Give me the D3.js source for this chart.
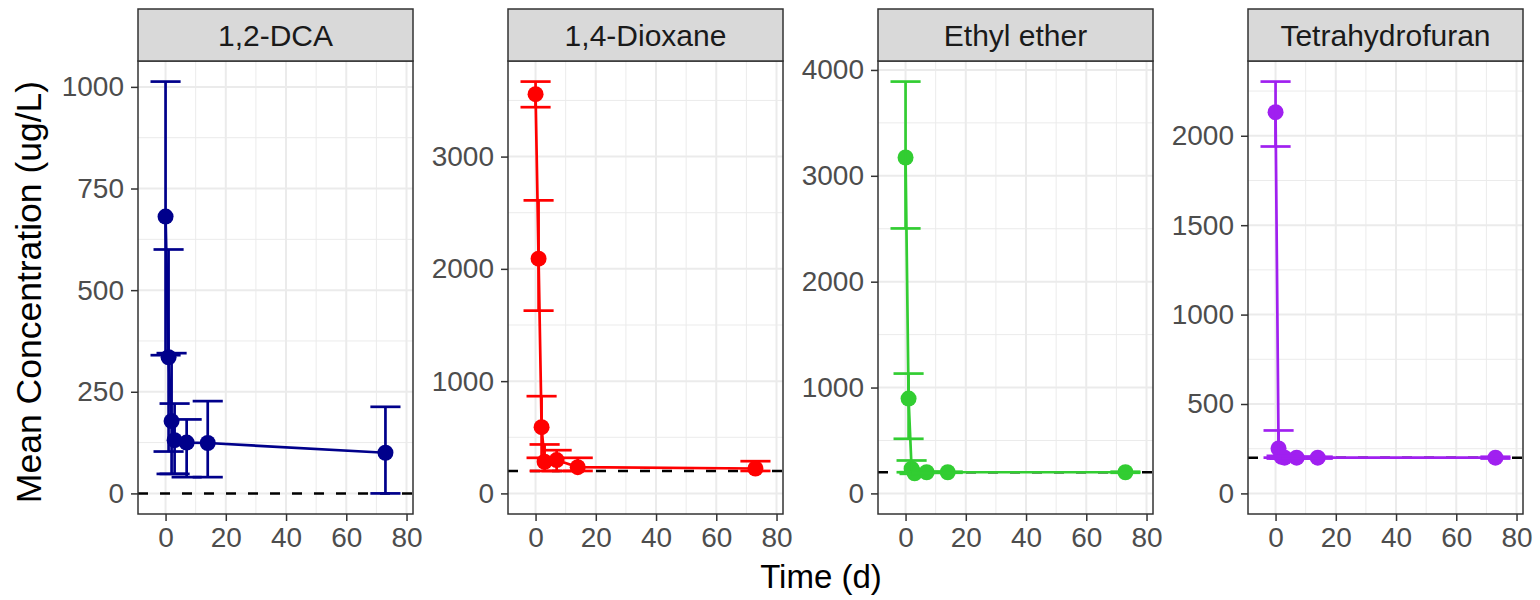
<!DOCTYPE html>
<html>
<head>
<meta charset="utf-8">
<script src="https://cdn.jsdelivr.net/npm/d3@7"></script>
<style>
  body { margin: 0; background: white; }
  text { font-family: "Liberation Sans", Arial, sans-serif; }
</style>
</head>
<body>
<script>
// values
const analytes = ["1,2-DCA", "1,4-Dioxane", "Ethyl ether", "Tetrahydrofuran"];
const colors = ["#00008B", "#FF0000", "#32CD32", "#A020F0"];
const times = [0, 1, 2, 3, 7, 14, 73];

const dcaMean = [681, 335, 178, 131, 125, 124, 100];
const dcaLow = [340, 103, 48, 48, 40, 40, 0];
const dcaHigh = [1013, 600, 345, 221, 182, 227, 213];

const dioxMean = [3556, 2091, 590, 282, 297, 234, 222];
const dioxLow = [3440, 1628, 317, 200, 200, 200, 200];
const dioxHigh = [3668, 2610, 866, 436, 385, 317, 287];

const etherMean = [3173, 896, 233, 190, 200, 200, 200];
const etherLow = [2503, 516, 200, 185, 195, 195, 195];
const etherHigh = [3890, 1132, 311, 200, 205, 205, 205];

const thfMean = [2132, 251, 205, 200, 200, 200, 200];
const thfLow = [1940, 200, 195, 195, 195, 195, 195];
const thfHigh = [2303, 352, 210, 205, 205, 205, 205];

const limitLines = [0, 200, 200, 200];

const xTicks = [0, 20, 40, 60, 80];
const xMinor = [10, 30, 50, 70];
const yTicksList = [
    [0, 250, 500, 750, 1000],
    [0, 1000, 2000, 3000],
    [0, 1000, 2000, 3000, 4000],
    [0, 500, 1000, 1500, 2000]
];
const yMinorList = [
    [125, 375, 625, 875],
    [500, 1500, 2500, 3500],
    [500, 1500, 2500, 3500],
    [250, 750, 1250, 1750, 2250]
];

const means = [dcaMean, dioxMean, etherMean, thfMean];
const lows = [dcaLow, dioxLow, etherLow, thfLow];
const highs = [dcaHigh, dioxHigh, etherHigh, thfHigh];

function main(){
    let width = 1540, height = 600;
    let panelTop = 61, panelBottom = 514;
    let stripTop = 9;
    let panelW = 275, firstLeft = 138, step = 370;
    let capHalf = 5; // error bar width = 10 days

    let svg = d3.select("body").append("svg")
        .attr("width", width)
        .attr("height", height);

    analytes.forEach(function(name, i){
        let left = firstLeft + i * step;
        let rows = times.map(function(t, j){
            return {t: t, mean: means[i][j], lo: lows[i][j], hi: highs[i][j]};
        });

        // x scale with ggplot-like 5% expansion
        let xMin = d3.min(times) - capHalf, xMax = d3.max(times) + capHalf;
        let xPad = (xMax - xMin) * 0.05;
        let xScale = d3.scaleLinear()
            .domain([xMin - xPad, xMax + xPad])
            .range([left, left + panelW]);

        let yMin = Math.min(0, d3.min(lows[i]), limitLines[i]);
        let yMax = d3.max(highs[i]);
        let yPad = (yMax - yMin) * 0.05;
        let yScale = d3.scaleLinear()
            .domain([yMin - yPad, yMax + yPad])
            .range([panelBottom, panelTop]);

        let g = svg.append("g");

        // panel background + grid
        g.append("rect")
            .attr("x", left).attr("y", panelTop)
            .attr("width", panelW).attr("height", panelBottom - panelTop)
            .attr("fill", "white");

        g.selectAll(".xminor").data(xMinor).enter().append("line")
            .attr("x1", d => xScale(d)).attr("x2", d => xScale(d))
            .attr("y1", panelTop).attr("y2", panelBottom)
            .attr("stroke", "#EBEBEB").attr("stroke-width", 1);
        g.selectAll(".yminor").data(yMinorList[i]).enter().append("line")
            .attr("x1", left).attr("x2", left + panelW)
            .attr("y1", d => yScale(d)).attr("y2", d => yScale(d))
            .attr("stroke", "#EBEBEB").attr("stroke-width", 1);
        g.selectAll(".xmajor").data(xTicks).enter().append("line")
            .attr("x1", d => xScale(d)).attr("x2", d => xScale(d))
            .attr("y1", panelTop).attr("y2", panelBottom)
            .attr("stroke", "#EBEBEB").attr("stroke-width", 2);
        g.selectAll(".ymajor").data(yTicksList[i]).enter().append("line")
            .attr("x1", left).attr("x2", left + panelW)
            .attr("y1", d => yScale(d)).attr("y2", d => yScale(d))
            .attr("stroke", "#EBEBEB").attr("stroke-width", 2);

        // dashed reference line
        g.append("line")
            .attr("x1", left).attr("x2", left + panelW)
            .attr("y1", yScale(limitLines[i])).attr("y2", yScale(limitLines[i]))
            .attr("stroke", "black").attr("stroke-width", 2.5)
            .attr("stroke-dasharray", "10,12");

        let col = colors[i];

        // connecting line
        let line = d3.line().x(d => xScale(d.t)).y(d => yScale(d.mean));
        g.append("path")
            .datum(rows)
            .attr("d", line)
            .attr("fill", "none")
            .attr("stroke", col)
            .attr("stroke-width", 2.7);

        g.selectAll(".pt").data(rows).enter().append("circle")
            .attr("cx", d => xScale(d.t))
            .attr("cy", d => yScale(d.mean))
            .attr("r", 8)
            .attr("fill", col);

        // error bars
        let eb = g.selectAll(".eb").data(rows).enter().append("g");
        eb.append("line")
            .attr("x1", d => xScale(d.t)).attr("x2", d => xScale(d.t))
            .attr("y1", d => yScale(d.lo)).attr("y2", d => yScale(d.hi))
            .attr("stroke", col).attr("stroke-width", 2.7);
        eb.append("line")
            .attr("x1", d => xScale(d.t - capHalf)).attr("x2", d => xScale(d.t + capHalf))
            .attr("y1", d => yScale(d.hi)).attr("y2", d => yScale(d.hi))
            .attr("stroke", col).attr("stroke-width", 2.7);
        eb.append("line")
            .attr("x1", d => xScale(d.t - capHalf)).attr("x2", d => xScale(d.t + capHalf))
            .attr("y1", d => yScale(d.lo)).attr("y2", d => yScale(d.lo))
            .attr("stroke", col).attr("stroke-width", 2.7);

        // panel border
        g.append("rect")
            .attr("x", left).attr("y", panelTop)
            .attr("width", panelW).attr("height", panelBottom - panelTop)
            .attr("fill", "none").attr("stroke", "#333333").attr("stroke-width", 1.5);

        // strip
        g.append("rect")
            .attr("x", left).attr("y", stripTop)
            .attr("width", panelW).attr("height", panelTop - stripTop)
            .attr("fill", "#D9D9D9").attr("stroke", "#333333").attr("stroke-width", 1.5);
        g.append("text")
            .attr("x", left + panelW / 2)
            .attr("y", 46)
            .attr("text-anchor", "middle")
            .attr("fill", "#1A1A1A")
            .attr("font-size", 30)
            .text(name);

        // axes
        let xAxis = g.append("g")
            .attr("transform", "translate(0," + panelBottom + ")")
            .call(d3.axisBottom(xScale).tickValues(xTicks).tickFormat(d3.format("d"))
                .tickSize(7).tickPadding(6).tickSizeOuter(0));
        let yAxis = g.append("g")
            .attr("transform", "translate(" + left + ",0)")
            .call(d3.axisLeft(yScale).tickValues(yTicksList[i]).tickFormat(d3.format("d"))
                .tickSize(7).tickPadding(7).tickSizeOuter(0));

        [xAxis, yAxis].forEach(function(ax){
            ax.select(".domain").remove();
            ax.selectAll(".tick line").attr("stroke", "#333333").attr("stroke-width", 1.5);
            ax.selectAll(".tick text")
                .attr("fill", "#4D4D4D")
                .attr("font-size", 28)
                .attr("font-family", "Liberation Sans, Arial, sans-serif");
        });
    });

    svg.append("text")
        .attr("transform", "translate(41,292) rotate(-90)")
        .attr("text-anchor", "middle")
        .attr("font-size", 35.5)
        .attr("fill", "black")
        .text("Mean Concentration (ug/L)");

    svg.append("text")
        .attr("x", 821)
        .attr("y", 588)
        .attr("text-anchor", "middle")
        .attr("font-size", 33)
        .attr("fill", "black")
        .text("Time (d)");
}

main();
</script>
</body>
</html>
